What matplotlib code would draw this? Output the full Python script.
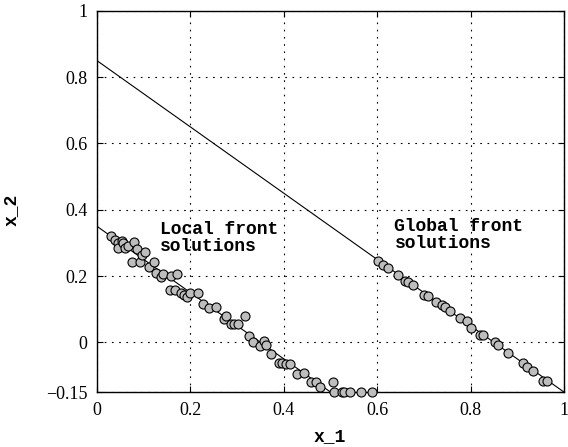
import numpy as np
import matplotlib
matplotlib.use("Agg")
import matplotlib.pyplot as plt

# solutions
local_x = [0.030, 0.039, 0.044, 0.046, 0.053, 0.056, 0.060, 0.067, 0.080, 0.085,
           0.074, 0.092, 0.096, 0.103, 0.111, 0.121, 0.126, 0.136, 0.142, 0.158,
           0.171, 0.157, 0.168, 0.180, 0.186, 0.192, 0.200, 0.217, 0.228, 0.239,
           0.254, 0.271, 0.276, 0.286, 0.294, 0.302, 0.318, 0.325, 0.335, 0.349,
           0.358, 0.362, 0.373, 0.390, 0.396, 0.405, 0.413, 0.429, 0.444, 0.458,
           0.469, 0.477, 0.505, 0.508, 0.524, 0.530, 0.541, 0.566, 0.590]
local_y = [0.322, 0.308, 0.300, 0.284, 0.306, 0.300, 0.284, 0.290, 0.303, 0.282,
           0.243, 0.243, 0.262, 0.274, 0.228, 0.242, 0.209, 0.198, 0.205, 0.199,
           0.207, 0.158, 0.158, 0.148, 0.142, 0.137, 0.148, 0.150, 0.116, 0.105,
           0.108, 0.069, 0.078, 0.056, 0.056, 0.056, 0.080, 0.018, 0.000, -0.012,
           0.004, -0.009, -0.036, -0.062, -0.062, -0.066, -0.066, -0.096, -0.094, -0.119,
           -0.119, -0.136, -0.119, -0.150, -0.150, -0.150, -0.150, -0.150, -0.150]

global_x = [0.602, 0.613, 0.624, 0.645, 0.659, 0.667, 0.676, 0.700, 0.708, 0.727,
            0.738, 0.745, 0.756, 0.777, 0.792, 0.802, 0.820, 0.827, 0.852, 0.859,
            0.881, 0.913, 0.920, 0.934, 0.956, 0.963]
global_y = [0.244, 0.234, 0.224, 0.204, 0.185, 0.182, 0.172, 0.142, 0.140, 0.123,
            0.113, 0.106, 0.093, 0.073, 0.063, 0.043, 0.023, 0.023, 0.002, -0.008,
            -0.033, -0.063, -0.073, -0.088, -0.118, -0.118]

# fronts (straight lines)
local_line_x = [0.0, 0.5]
local_line_y = [0.35, -0.15]
global_line_x = [0.0, 1.0]
global_line_y = [0.85, -0.15]

x_ticks = [0, 0.2, 0.4, 0.6, 0.8, 1]
x_labels = ["0", "0.2", "0.4", "0.6", "0.8", "1"]
y_ticks = [-0.15, 0, 0.2, 0.4, 0.6, 0.8, 1]
y_labels = ["\u22120.15", "0", "0.2", "0.4", "0.6", "0.8", "1"]

fig = plt.figure(figsize=(5.68, 4.47), dpi=100)
ax = fig.add_axes([0.1708, 0.123, 0.822, 0.8525])

ax.plot(global_line_x, global_line_y, color="black", lw=0.8, zorder=2)
ax.plot(local_line_x, local_line_y, color="black", lw=0.8, zorder=2)
ax.plot(local_x, local_y, "o", ms=6.5, mfc="#bdbdbd", mec="black", mew=0.8, zorder=3, clip_on=False)
ax.plot(global_x, global_y, "o", ms=6.5, mfc="#bdbdbd", mec="black", mew=0.8, zorder=3, clip_on=False)

ax.set_xlim(0, 1)
ax.set_ylim(-0.15, 1)
ax.set_xticks(x_ticks)
ax.set_xticklabels(x_labels)
ax.set_yticks(y_ticks)
ax.set_yticklabels(y_labels)
ax.grid(True, color="black", linestyle=(0, (1.5, 5)), linewidth=0.8)
ax.tick_params(direction="in", top=True, right=True, length=4, width=0.8, pad=7)
for lab in ax.get_xticklabels() + ax.get_yticklabels():
    lab.set_fontfamily("Liberation Serif")
    lab.set_fontsize(13)
for s in ax.spines.values():
    s.set_linewidth(1.0)

mono = {"family": "Liberation Mono", "weight": "bold", "size": 13}
ax.set_xlabel("x_1", fontdict=mono)
ax.set_ylabel("x_2", fontdict=mono)
ax.xaxis.set_label_coords(0.499, -0.095)
ax.yaxis.set_label_coords(-0.165, 0.478)

ax.text(0.135, 0.365, "Local front\nsolutions", fontdict=mono, va="top", ha="left", linespacing=1.0)
ax.text(0.637, 0.375, "Global front\nsolutions", fontdict=mono, va="top", ha="left", linespacing=1.0)

fig.savefig("out.png", dpi=100)
